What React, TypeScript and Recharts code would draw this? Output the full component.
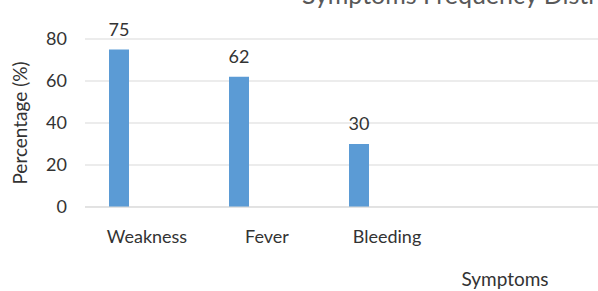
import { BarChart, Bar, XAxis, YAxis, CartesianGrid, LabelList, Rectangle } from 'recharts'

const symptoms = ['Weakness', 'Fever', 'Bleeding']
const percentages = [75, 62, 30]
const yTicks = [0, 20, 40, 60, 80]

const data = symptoms.map((name, i) => ({ name, value: percentages[i] }))

const TEXT = '#333333'
const BAR_SHIFT = -28 // bars sit left of the category centre, like the source sheet

export default function App() {
  return (
    <div
      style={{
        position: 'absolute',
        left: 0,
        top: 0,
        width: 598,
        height: 291,
        overflow: 'hidden',
        background: '#fff',
        fontFamily: 'Lato, sans-serif',
      }}
    >
      <BarChart
        width={700}
        height={291}
        data={data}
        margin={{ top: 39, right: 15, left: 0, bottom: 0 }}
      >
        {/* title is cropped at the top edge in the source image */}
        <text x={302} y={4} fontSize={25} fill="#595959">
          Symptoms Frequency Distribution
        </text>
        <CartesianGrid vertical={false} stroke="#d9d9d9" />
        <XAxis
          dataKey="name"
          height={84}
          padding={{ left: 2, right: 238 }}
          tickLine={false}
          tickMargin={17}
          stroke="#d9d9d9"
          tick={{ fill: TEXT, fontSize: 18 }}
          label={{
            content: ({ viewBox }: any) => (
              <text x={viewBox.x + 420} y={286} textAnchor="middle" fontSize={19} fill={TEXT}>
                Symptoms
              </text>
            ),
          }}
        />
        <YAxis
          width={85}
          domain={[0, 80]}
          ticks={yTicks}
          axisLine={false}
          tickLine={false}
          tickMargin={12}
          tick={{ fill: TEXT, fontSize: 18 }}
          label={{
            content: ({ viewBox }: any) => {
              const cy = viewBox.y + viewBox.height / 2
              return (
                <text
                  x={27}
                  y={cy}
                  transform={`rotate(-90, 27, ${cy})`}
                  textAnchor="middle"
                  fontSize={19}
                  fill={TEXT}
                >
                  Percentage (%)
                </text>
              )
            },
          }}
        />
        <Bar
          dataKey="value"
          fill="#5b9bd5"
          barSize={20}
          isAnimationActive={false}
          shape={(props: any) => <Rectangle {...props} x={props.x + BAR_SHIFT} />}
        >
          <LabelList
            dataKey="value"
            content={(props: any) => (
              <text
                x={props.x + props.width / 2 + BAR_SHIFT}
                y={props.y - 14}
                textAnchor="middle"
                fontSize={18}
                fill={TEXT}
              >
                {props.value}
              </text>
            )}
          />
        </Bar>
      </BarChart>
    </div>
  )
}
